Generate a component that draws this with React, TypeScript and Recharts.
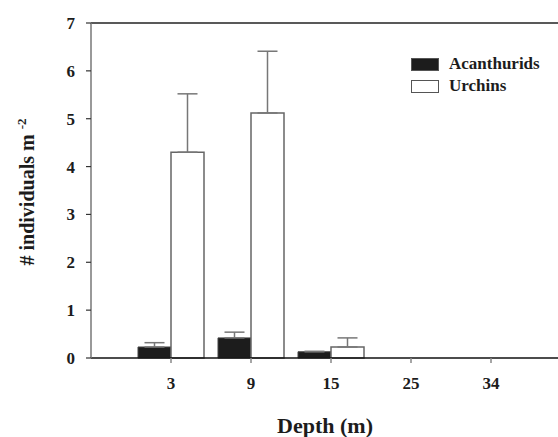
import {
  BarChart, Bar, XAxis, YAxis, ErrorBar, Legend, ReferenceLine,
} from 'recharts'

const depths = ['3', '9', '15', '25', '34']
const acanthurids = [0.23, 0.42, 0.13, 0, 0]
const acanthuridsSE = [0.09, 0.12, 0.01, 0.01, 0]
const urchins = [4.3, 5.12, 0.23, 0, 0]
const urchinsSE = [1.22, 1.29, 0.19, 0.01, 0]
const yTicks = [0, 1, 2, 3, 4, 5, 6, 7]

const data = depths.map((d, i) => ({
  depth: d,
  acan: acanthurids[i],
  acanErr: [0, acanthuridsSE[i]],
  urch: urchins[i],
  urchErr: [0, urchinsSE[i]],
}))

const FONT = '"Liberation Serif", "Times New Roman", serif'
const INK = '#1c1c1c'

function LegendBox() {
  const items = [
    { name: 'Acanthurids', fill: INK },
    { name: 'Urchins', fill: '#fff' },
  ]
  return (
    <div style={{ fontFamily: FONT, fontWeight: 700, fontSize: 17, color: INK }}>
      {items.map((it) => (
        <div key={it.name} style={{ display: 'flex', alignItems: 'center', height: 22 }}>
          <span style={{
            display: 'inline-block', width: 26, height: 11, background: it.fill,
            border: '1px solid #555', marginRight: 10,
          }} />
          {it.name}
        </div>
      ))}
    </div>
  )
}

export default function App() {
  return (
    <div style={{ position: 'absolute', left: 0, top: 0, width: 558, height: 437, overflow: 'hidden', background: '#fff' }}>
      <BarChart
        width={571}
        height={437}
        data={data}
        margin={{ top: 23, right: 0, bottom: 0, left: 0 }}
        barCategoryGap={7}
        barGap={0}
      >
        <XAxis
          dataKey="depth"
          height={79}
          padding={{ left: 40, right: 40 }}
          tickSize={5}
          tickMargin={14}
          axisLine={{ stroke: '#111', strokeWidth: 1.5 }}
          tickLine={{ stroke: '#888', strokeWidth: 1.5 }}
          tick={{ fontSize: 17, fontWeight: 700, fill: INK, fontFamily: FONT }}
          label={{
            content: () => (
              <text x={325} y={433} textAnchor="middle" fontSize={22} fontWeight={700} fill={INK} fontFamily={FONT}>
                Depth (m)
              </text>
            ),
          }}
        />
        <YAxis
          width={91}
          domain={[0, 7]}
          ticks={yTicks}
          interval={0}
          tickSize={5}
          tickMargin={11}
          axisLine={{ stroke: '#777', strokeWidth: 1.5 }}
          tickLine={{ stroke: '#333', strokeWidth: 1.2 }}
          tick={{ fontSize: 17, fontWeight: 700, fill: INK, fontFamily: FONT }}
          label={{
            content: () => (
              <text
                x={34}
                y={192}
                transform="rotate(-90, 34, 192)"
                textAnchor="middle"
                fontSize={20}
                fontWeight={700}
                fill={INK}
                fontFamily={FONT}
              >
                # individuals m <tspan dy={-8} fontSize={13}>-2</tspan>
              </text>
            ),
          }}
        />
        <ReferenceLine y={7} stroke="#222" strokeWidth={1.5} ifOverflow="visible" />
        <Legend
          layout="horizontal"
          verticalAlign="middle"
          align="center"
          content={() => <LegendBox />}
          wrapperStyle={{ top: 53, left: 411, width: 160 }}
        />
        <Bar dataKey="acan" name="Acanthurids" fill={INK} stroke="#444" strokeWidth={1} isAnimationActive={false}>
          <ErrorBar dataKey="acanErr" direction="y" width={10} stroke="#777" strokeWidth={1.5} isAnimationActive={false} />
        </Bar>
        <Bar dataKey="urch" name="Urchins" fill="#fff" stroke="#666" strokeWidth={1.5} isAnimationActive={false}>
          <ErrorBar dataKey="urchErr" direction="y" width={10} stroke="#777" strokeWidth={1.5} isAnimationActive={false} />
        </Bar>
      </BarChart>
    </div>
  )
}
